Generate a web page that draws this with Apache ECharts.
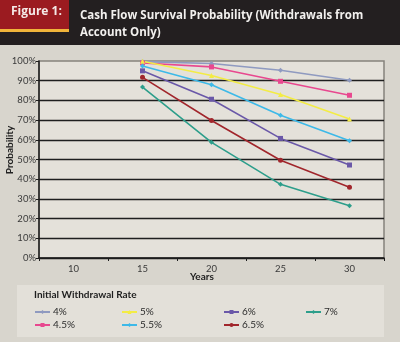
<!DOCTYPE html>
<html>
<head>
<meta charset="utf-8">
<script src="https://cdn.jsdelivr.net/npm/echarts@6/dist/echarts.min.js"></script>
<style>
  html, body { margin: 0; padding: 0; background: #d8d5cd; }
  #chart { width: 400px; height: 342px; }
</style>
</head>
<body>
<div id="chart"></div>
<script>
// Years since retirement (x categories)
const years = ['10', '15', '20', '25', '30'];

// Survival probability (%) for each initial withdrawal rate; 10-year column left empty
const rate4  = [null, 99.7, 98.7, 95.3, 90.2];
const rate45 = [null, 99.0, 97.0, 89.7, 82.6];
const rate5  = [null, 99.9, 92.6, 83.0, 70.5];
const rate55 = [null, 97.5, 87.9, 72.5, 59.5];
const rate6  = [null, 95.0, 80.6, 60.7, 47.2];
const rate65 = [null, 91.7, 69.8, 49.6, 35.9];
const rate7  = [null, 86.8, 58.7, 37.4, 26.5];

const seriesNames = ['4%', '4.5%', '5%', '5.5%', '6%', '6.5%', '7%'];
const seriesData  = [rate4, rate45, rate5, rate55, rate6, rate65, rate7];
const seriesColors = ['#8f9ac0', '#e8488f', '#f3ec45', '#3db9e8', '#6a58a8', '#a1262c', '#2d9e8b'];
const seriesSymbols = ['diamond', 'rect', 'triangle', 'diamond', 'rect', 'circle', 'diamond'];

const FONT = 'Lato, "Open Sans", sans-serif';
const HEAD_FONT = '"Open Sans", Lato, sans-serif';

const chart = echarts.init(document.getElementById('chart'), null, { renderer: 'canvas' });

const series = seriesNames.map((name, i) => ({
  name: name,
  type: 'line',
  data: seriesData[i],
  symbol: seriesSymbols[i],
  symbolSize: 5,
  showAllSymbol: true,
  connectNulls: false,
  lineStyle: { color: seriesColors[i], width: 1.6 },
  itemStyle: { color: seriesColors[i] },
  emphasis: { disabled: true },
  z: 3
}));

function legendColumn(names, left) {
  return {
    data: names,
    orient: 'vertical',
    left: left,
    top: 307,
    itemWidth: 15,
    itemHeight: 5,
    itemGap: 3,
    padding: 0,
    selectedMode: false,
    textStyle: { fontFamily: FONT, fontSize: 10, color: '#2b2b2b', padding: [0, 0, 0, -2] }
  };
}

chart.setOption({
  animation: false,
  backgroundColor: '#d8d5cd',
  graphic: [
    // header band
    { type: 'rect', shape: { x: 0, y: 0, width: 400, height: 45 }, style: { fill: '#231f20' }, z: -10 },
    { type: 'rect', shape: { x: 0, y: 0, width: 69, height: 29 }, style: { fill: '#9b1b20' }, z: -9 },
    { type: 'rect', shape: { x: 0, y: 29, width: 69, height: 3 }, style: { fill: '#f0b43a' }, z: -9 },
    { type: 'text', left: 11, top: 6, style: { text: 'Figure 1:', fill: '#f4e9e6', font: 'bold 12px ' + HEAD_FONT } },
    { type: 'text', left: 80, top: 7, style: { text: 'Cash Flow Survival Probability (Withdrawals from\nAccount Only)', fill: '#f2f0ee', font: 'bold 11.5px ' + HEAD_FONT, lineHeight: 17 } },
    // legend panel
    { type: 'rect', shape: { x: 17, y: 285, width: 367, height: 52 }, style: { fill: '#e3e0d9' }, z: -5 },
    { type: 'text', left: 34, top: 290, style: { text: 'Initial Withdrawal Rate', fill: '#1e1e1e', font: 'bold 10px ' + FONT } },
    // y axis title
    { type: 'text', x: 5, y: 150, rotation: Math.PI / 2, style: { text: 'Probability', fill: '#222', font: 'bold 10px ' + FONT, align: 'center', verticalAlign: 'top' } },
    // x axis title
    { type: 'text', left: 190, top: 272, style: { text: 'Years', fill: '#222', font: 'bold 10px ' + FONT } }
  ],
  legend: [
    legendColumn(['4%', '4.5%'], 34),
    legendColumn(['5%', '5.5%'], 121),
    legendColumn(['6%', '6.5%'], 223),
    legendColumn(['7%'], 305)
  ],
  grid: {
    left: 39, right: 16, top: 61, bottom: 84,
    show: true,
    backgroundColor: '#e4e1da',
    borderColor: '#85827c',
    borderWidth: 1.5
  },
  xAxis: {
    type: 'category',
    data: years,
    boundaryGap: true,
    axisLine: { lineStyle: { color: '#1d1d1d', width: 1.5 } },
    axisTick: { show: true, length: 3, lineStyle: { color: '#1d1d1d' } },
    axisLabel: { fontFamily: FONT, fontSize: 9.5, color: '#3a3a3a', margin: 6 },
    splitLine: { show: false }
  },
  yAxis: {
    type: 'value',
    min: 0, max: 100, interval: 10,
    axisLine: { show: true, lineStyle: { color: '#1d1d1d', width: 1.5 } },
    axisTick: { show: true, length: 3, lineStyle: { color: '#1d1d1d' } },
    axisLabel: { fontFamily: FONT, fontSize: 9.5, color: '#3a3a3a', margin: 3, formatter: '{value}%' },
    splitLine: { show: true, showMaxLine: false, lineStyle: { color: '#1f1f1f', width: 1.3 } }
  },
  series: series
});
</script>
</body>
</html>
